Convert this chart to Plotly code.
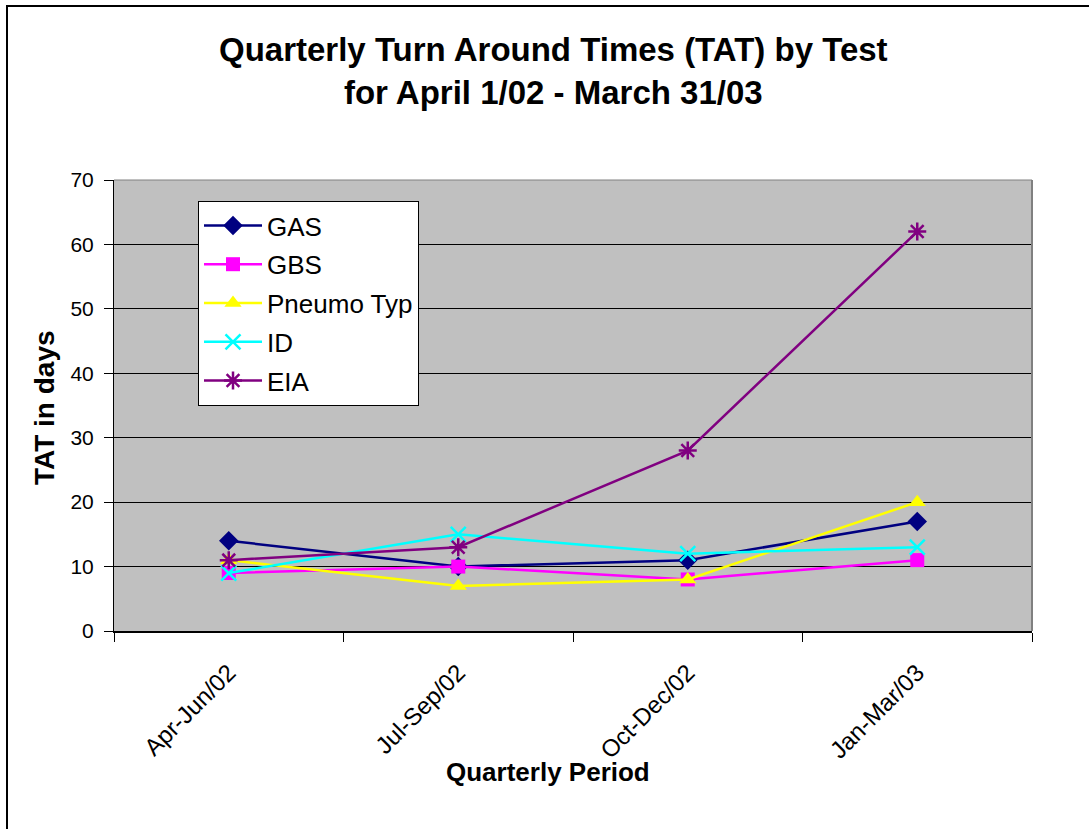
import plotly.graph_objects as go

# Quarterly turnaround times (days) per test
quarters = ["Apr-Jun/02", "Jul-Sep/02", "Oct-Dec/02", "Jan-Mar/03"]
gas = [14, 10, 11, 17]
gbs = [9, 10, 8, 11]
pneumo_typ = [11, 7, 8, 20]
id_test = [9, 15, 12, 13]
eia = [11, 13, 28, 62]

series = [
    ("GAS", gas, "#000080", "diamond", 15, 0),
    ("GBS", gbs, "#FF00FF", "square", 14, 0),
    ("Pneumo Typ", pneumo_typ, "#FFFF00", "triangle-up", 15, 0),
    ("ID", id_test, "#00FFFF", "x-thin-open", 15, 2.5),
    ("EIA", eia, "#800080", "asterisk-open", 15, 2.5),
]

FONT = "Liberation Sans, Arial, sans-serif"

fig = go.Figure()
for i, (name, vals, color, symbol, size, mlw) in enumerate(series):
    fig.add_trace(go.Scatter(
        x=quarters, y=vals, name=name, mode="lines+markers",
        legendgroup=f"g{i}",
        line=dict(color=color, width=2.5),
        marker=dict(symbol=symbol, size=size, color=color,
                    line=dict(color=color, width=mlw)),
    ))

W, H = 1089, 829
L, R, T, B = 114, 1032, 180, 631
pw, ph = R - L, B - T


def px(x):
    return (x - L) / pw


def py(y):
    return (B - y) / ph


fig.update_layout(
    width=W, height=H,
    margin=dict(l=L, r=W - R, t=T, b=H - B, pad=0),
    paper_bgcolor="white",
    plot_bgcolor="#C0C0C0",
    font=dict(family=FONT, color="black", size=22),
    showlegend=True,
    legend=dict(
        x=px(198), y=py(201), xanchor="left", yanchor="top",
        bgcolor="white", bordercolor="black", borderwidth=1,
        font=dict(size=26, family=FONT), traceorder="grouped",
        tracegroupgap=2, itemwidth=58,
    ),
    xaxis=dict(
        type="category", showgrid=False, showline=True,
        linecolor="black", linewidth=2, mirror=False,
        ticks="outside", tickson="boundaries", ticklen=9,
        tickcolor="black", tickangle=-45, ticklabelstandoff=16,
        tickfont=dict(size=24, family=FONT), range=[-0.5, 3.5],
    ),
    yaxis=dict(
        range=[0, 70], dtick=10, showgrid=True, gridcolor="black",
        gridwidth=1, showline=True, linecolor="black", linewidth=1,
        ticks="outside", ticklen=9, tickcolor="black",
        ticklabelstandoff=6,
        tickfont=dict(size=21, family=FONT), zeroline=False,
    ),
    annotations=[
        dict(text="<b>Quarterly Turn Around Times (TAT) by Test<br>for April 1/02 - March 31/03</b>",
             xref="paper", yref="paper", x=px(553), y=py(71),
             xanchor="center", yanchor="middle", showarrow=False,
             font=dict(size=33, family=FONT)),
        dict(text="<b>TAT in days</b>", xref="paper", yref="paper",
             x=px(44), y=py(408), xanchor="center", yanchor="middle",
             textangle=-90, showarrow=False, font=dict(size=28, family=FONT)),
        dict(text="<b>Quarterly Period</b>", xref="paper", yref="paper",
             x=px(548), y=py(772), xanchor="center", yanchor="middle",
             showarrow=False, font=dict(size=26, family=FONT)),
    ],
    shapes=[
        # outer frame around the chart
        dict(type="rect", xref="paper", yref="paper",
             x0=px(7), x1=px(1100), y0=py(840), y1=py(6),
             line=dict(color="black", width=2), layer="below"),
        # plot-area frame (top/right)
        dict(type="line", xref="paper", yref="paper",
             x0=1, x1=1, y0=0, y1=1, line=dict(color="#808080", width=2)),
        dict(type="line", xref="paper", yref="paper",
             x0=0, x1=1, y0=1, y1=1, line=dict(color="#808080", width=1)),
    ],
)

fig.write_html("out.html")
